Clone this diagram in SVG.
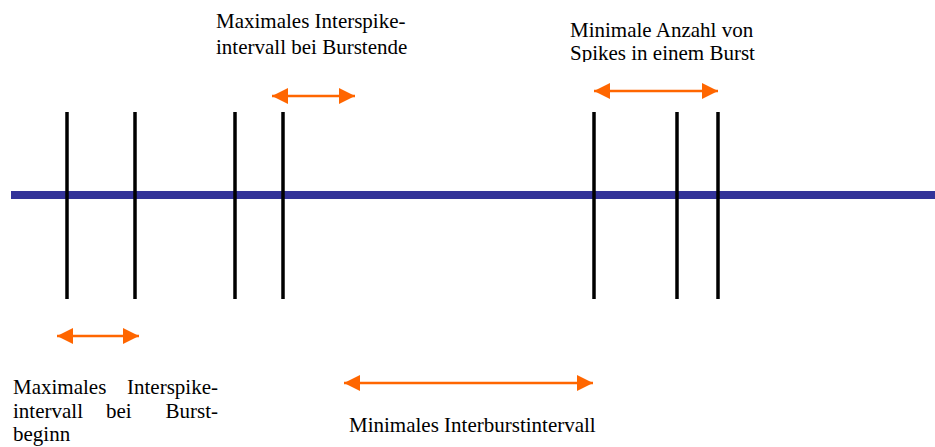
<svg xmlns="http://www.w3.org/2000/svg" width="935" height="447" viewBox="0 0 935 447">
  <style>
    .label { font-family: "Liberation Serif", "Times New Roman", serif; font-size: 21px; fill: #000; }
    .axis { stroke: #333399; stroke-width: 8; }
    .spike { stroke: #000; stroke-width: 3.5; }
    .span { stroke: #ff6600; stroke-width: 2.5; fill: none; marker-start: url(#head); marker-end: url(#head); }
  </style>
  <defs>
    <marker id="head" viewBox="0 0 16 16" refX="16" refY="8" markerWidth="16" markerHeight="16" markerUnits="userSpaceOnUse" orient="auto-start-reverse">
      <path d="M0,0 L16,8 L0,16 z" fill="#ff6600"/>
    </marker>
    <clipPath id="topRightClip">
      <rect x="540" y="0" width="260" height="62"/>
    </clipPath>
  </defs>
  <rect width="935" height="447" fill="#fff"/>

  <!-- time axis -->
  <g id="axis">
    <line class="axis" x1="11" y1="195" x2="935" y2="195"/>
  </g>

  <!-- spikes -->
  <g id="spikes">
    <line class="spike" x1="67" y1="112" x2="67" y2="299"/>
    <line class="spike" x1="135" y1="112" x2="135" y2="299"/>
    <line class="spike" x1="235" y1="112" x2="235" y2="299"/>
    <line class="spike" x1="283" y1="112" x2="283" y2="299"/>
    <line class="spike" x1="594" y1="112" x2="594" y2="299"/>
    <line class="spike" x1="677" y1="112" x2="677" y2="299"/>
    <line class="spike" x1="718" y1="112" x2="718" y2="299"/>
  </g>

  <!-- interval arrows -->
  <g id="connectors">
    <line class="span" x1="57" y1="336" x2="139" y2="336"/>
    <line class="span" x1="272" y1="96" x2="355" y2="96"/>
    <line class="span" x1="594" y1="91" x2="718" y2="91"/>
    <line class="span" x1="344" y1="383" x2="593" y2="383"/>
  </g>

  <!-- labels -->
  <g id="label-burstende">
    <text class="label" x="216" y="28">Maximales Interspike-</text>
    <text class="label" x="216" y="54">intervall bei Burstende</text>
  </g>
  <g id="label-anzahl" clip-path="url(#topRightClip)">
    <text class="label" x="570" y="37">Minimale Anzahl von</text>
    <text class="label" x="570" y="60">Spikes in einem Burst</text>
  </g>
  <g id="label-burstbeginn">
    <text class="label" x="13" y="394">Maximales</text>
    <text class="label" x="218" y="394" text-anchor="end">Interspike-</text>
    <text class="label" x="13" y="418">intervall</text>
    <text class="label" x="106" y="418">bei</text>
    <text class="label" x="218" y="418" text-anchor="end">Burst-</text>
    <text class="label" x="13" y="441">beginn</text>
  </g>
  <g id="label-interburst">
    <text class="label" x="349" y="432">Minimales Interburstintervall</text>
  </g>
</svg>
